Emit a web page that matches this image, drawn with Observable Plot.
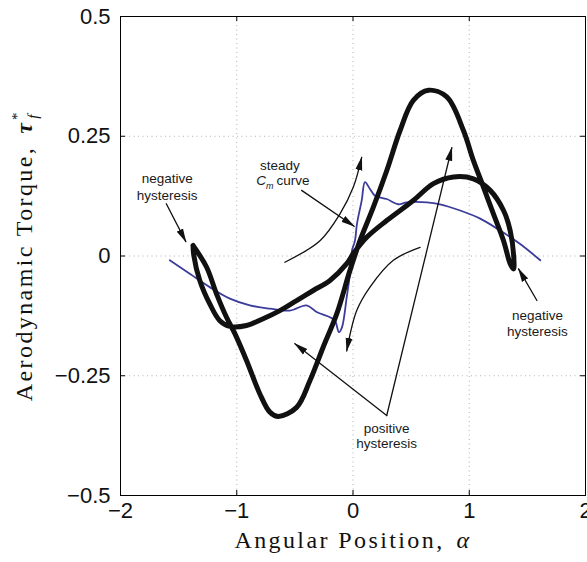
<!DOCTYPE html>
<html>
<head>
<meta charset="utf-8">
<script src="https://cdn.jsdelivr.net/npm/d3@7"></script>
<script src="https://cdn.jsdelivr.net/npm/@observablehq/plot@0.6"></script>
<style>
  html, body { margin: 0; padding: 0; background: #fff; }
  #chart svg { display: block; }
</style>
</head>
<body>
<div id="chart"></div>
<script>
// Limit cycle of the aerodynamic torque: the branch traced while α increases
const forwardAlpha = [-1.376, -1.260, -1.174, -1.088, -1.016, -0.916, -0.801, -0.715, -0.643, -0.485, -0.370, -0.256, -0.140, -0.026, 0.060, 0.175, 0.290, 0.405, 0.519, 0.649, 0.807, 0.950, 1.036, 1.122, 1.208, 1.295, 1.352, 1.381];
const forwardTau   = [0.022, -0.023, -0.079, -0.128, -0.162, -0.218, -0.288, -0.326, -0.335, -0.316, -0.260, -0.190, -0.121, -0.030, 0.032, 0.102, 0.178, 0.262, 0.325, 0.346, 0.332, 0.262, 0.199, 0.144, 0.088, 0.032, -0.016, -0.027];

// ...and the branch traced on the way back, while α decreases
const backwardAlpha = [1.383, 1.352, 1.295, 1.180, 1.036, 0.864, 0.692, 0.519, 0.290, 0.118, 0.003, -0.054, -0.198, -0.342, -0.485, -0.629, -0.773, -0.916, -1.059, -1.146, -1.232, -1.318, -1.370, -1.376];
const backwardTau   = [-0.003, 0.053, 0.095, 0.137, 0.161, 0.165, 0.151, 0.116, 0.074, 0.039, 0.005, -0.016, -0.051, -0.072, -0.093, -0.114, -0.131, -0.145, -0.147, -0.135, -0.100, -0.051, 0.002, 0.022];

// Steady (static) moment coefficient curve
const steadyAlpha = [-1.576, -1.404, -1.232, -1.059, -0.887, -0.715, -0.543, -0.399, -0.313, -0.198, -0.155, -0.121, -0.095, -0.054, -0.026, -0.009, 0.017, 0.034, 0.075, 0.103, 0.146, 0.189, 0.290, 0.390, 0.463, 0.635, 0.749, 0.922, 1.094, 1.266, 1.438, 1.611];
const steadyCm    = [-0.009, -0.037, -0.065, -0.089, -0.103, -0.110, -0.114, -0.103, -0.117, -0.128, -0.135, -0.159, -0.149, -0.086, -0.037, 0.011, 0.032, 0.067, 0.116, 0.154, 0.140, 0.126, 0.119, 0.108, 0.112, 0.112, 0.108, 0.095, 0.078, 0.053, 0.025, -0.009];

// Axis ticks and grid
const xTicks = [-2, -1, 0, 1, 2];
const yTicks = [-0.5, -0.25, 0, 0.25, 0.5];
const xGrid = [-1, 0, 1];
const yGrid = [-0.25, 0, 0.25];

const xLabel = "Angular Position,";
const yLabel = "Aerodynamic Torque,";
const cmLabel = "Cm curve";

// Annotation text lines (anchored in data units)
const noteText  = ["negative", "hysteresis", "steady", cmLabel, "positive", "hysteresis", "negative", "hysteresis"];
const noteAlpha = [-1.598, -1.598, -0.629, -0.603, 0.290, 0.290, 1.587, 1.587];
const noteTau   = [0.162, 0.126, 0.189, 0.158, -0.360, -0.391, -0.124, -0.158];

// Annotation arrows: each is a short polyline ending at its head
const arrowPaths = [
  [[-1.606, 0.109], [-1.438, 0.030]],
  [[-0.442, 0.137], [0.009, 0.062]],
  [[-0.586, -0.013], [-0.284, 0.032], [-0.112, 0.088], [0.003, 0.144], [0.075, 0.206]],
  [[0.577, 0.018], [0.347, -0.009], [0.146, -0.065], [0.032, -0.114], [-0.054, -0.198]],
  [[0.290, -0.333], [-0.500, -0.183]],
  [[0.290, -0.333], [0.850, 0.226]],
  [[1.582, -0.093], [1.424, -0.027]]
];

const loop = [
  ...forwardAlpha.map((a, i) => ({alpha: a, tau: forwardTau[i]})),
  ...backwardAlpha.map((a, i) => ({alpha: a, tau: backwardTau[i]}))
];
const steady = steadyAlpha.map((a, i) => ({alpha: a, cm: steadyCm[i]}));
const notes = noteText.map((t, i) => ({text: t, alpha: noteAlpha[i], tau: noteTau[i]}));
const arrowRows = arrowPaths.flatMap((pts, id) => pts.map(([alpha, tau]) => ({id, alpha, tau})));

const W = 587, H = 562, mL = 120, mR = 2, mT = 16, mB = 67;
const innerW = W - mL - mR, innerH = H - mT - mB, tickLen = 5;
const fmt = d => d < 0 ? "\u2212" + (-d) : String(d);
const sans = "Liberation Sans, Arial, Helvetica, sans-serif";
const serif = "Liberation Serif, Times New Roman, serif";

const chart = Plot.plot({
  width: W, height: H,
  marginLeft: mL, marginRight: mR, marginTop: mT, marginBottom: mB,
  style: {background: "#fff", overflow: "visible"},
  x: {domain: [-2, 2], label: null},
  y: {domain: [-0.5, 0.5], label: null},
  marks: [
    Plot.ruleX(xGrid, {stroke: "#b0b0b0", strokeWidth: 1, strokeDasharray: "1,3.5"}),
    Plot.ruleY(yGrid, {stroke: "#b0b0b0", strokeWidth: 1, strokeDasharray: "1,3.5"}),
    Plot.line(steady, {x: "alpha", y: "cm", stroke: "#3b3c9c", strokeWidth: 1.8, curve: "catmull-rom"}),
    Plot.line(loop, {x: "alpha", y: "tau", stroke: "#111", strokeWidth: 5, curve: "catmull-rom", strokeLinejoin: "round"}),
    Plot.line(arrowRows, {x: "alpha", y: "tau", z: "id", stroke: "#111", strokeWidth: 1.3, curve: "catmull-rom", markerEnd: "arrow"}),
    Plot.text(notes, {x: "alpha", y: "tau", text: "text", fontSize: 13.5, fontFamily: sans, fill: "#1a1a1a"}),
    Plot.frame({stroke: "#000", strokeWidth: 1}),
    // inward tick marks on all four sides
    Plot.ruleX(xGrid, {insetTop: innerH - tickLen, stroke: "#000"}),
    Plot.ruleX(xGrid, {insetBottom: innerH - tickLen, stroke: "#000"}),
    Plot.ruleY(yGrid, {insetRight: innerW - tickLen, stroke: "#000"}),
    Plot.ruleY(yGrid, {insetLeft: innerW - tickLen, stroke: "#000"}),
    Plot.axisX(xTicks, {tickSize: 0, tickPadding: 7, fontSize: 22, fontFamily: sans, tickFormat: fmt, label: null, fill: "#111"}),
    Plot.axisY(yTicks, {tickSize: 0, tickPadding: 10, fontSize: 22, fontFamily: sans, tickFormat: fmt, label: null, fill: "#111"}),
    Plot.text([xLabel], {text: d => d, frameAnchor: "bottom", textAnchor: "middle", dy: 52, fontSize: 24, fontFamily: serif, fill: "#111"}),
    Plot.text([yLabel], {text: d => d, frameAnchor: "left", textAnchor: "middle", rotate: -90, dx: -96, fontSize: 24, fontFamily: serif, fill: "#111"})
  ]
});

document.getElementById("chart").appendChild(chart);

const svg = d3.select(chart);

// filled triangular arrowheads
svg.selectAll("marker")
  .attr("markerUnits", "userSpaceOnUse")
  .attr("viewBox", "-13 -4 14 8")
  .attr("markerWidth", 14)
  .attr("markerHeight", 8)
  .attr("fill", "#111")
  .attr("stroke", "none")
  .select("path")
  .attr("d", "M-13,-3.5L1,0L-13,3.5Z");

// serif axis titles with spaced lettering and math symbols
const findText = s => svg.selectAll("text").filter(function () { return this.textContent === s; });

const xl = findText(xLabel).style("letter-spacing", "2.4px");
xl.append("tspan").attr("dx", 12).attr("font-style", "italic").text("α");

const yl = findText(yLabel).style("letter-spacing", "2.4px");
yl.append("tspan").attr("dx", 12).attr("font-style", "italic").attr("font-weight", "bold").text("τ");
yl.append("tspan").attr("dy", -10).attr("font-size", 15).attr("font-style", "italic").text("*");
yl.append("tspan").attr("dx", -8).attr("dy", 16).attr("font-size", 15).attr("font-style", "italic").text("f");

// C with subscript m
const cm = findText(cmLabel);
cm.text(null);
cm.append("tspan").attr("font-style", "italic").text("C");
cm.append("tspan").attr("font-style", "italic").attr("font-size", 9).attr("dy", 4).text("m");
cm.append("tspan").attr("dy", -4).attr("dx", 3).text("curve");
</script>
</body>
</html>
